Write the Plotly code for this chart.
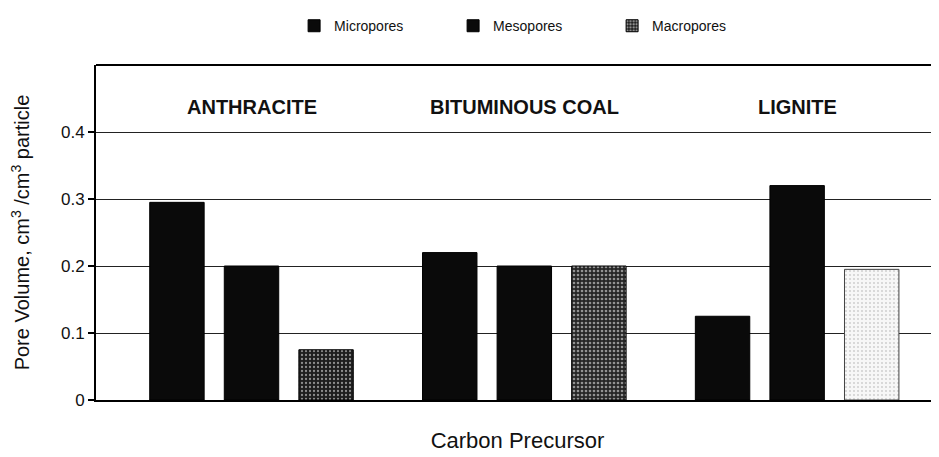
import plotly.graph_objects as go

precursors = ["ANTHRACITE", "BITUMINOUS COAL", "LIGNITE"]
micropores = [0.295, 0.22, 0.125]
mesopores = [0.2, 0.2, 0.32]
macropores = [0.075, 0.2, 0.195]
y_ticks = [0, 0.1, 0.2, 0.3, 0.4]
y_tick_labels = ["0", "0.1", "0.2", "0.3", "0.4"]

FONT = "Liberation Sans, Arial, sans-serif"

fig = go.Figure()
fig.add_trace(go.Bar(name="Micropores", x=precursors, y=micropores,
                     marker=dict(color="#0a0a0a", line=dict(color="#000", width=1))))
fig.add_trace(go.Bar(name="Mesopores", x=precursors, y=mesopores,
                     marker=dict(color="#0a0a0a", line=dict(color="#000", width=1))))
fig.add_trace(go.Bar(name="Macropores", x=precursors, y=macropores,
                     marker=dict(color="#222",
                                 line=dict(color=["#000", "#000", "#444"], width=1),
                                 pattern=dict(shape=".", fgcolor=["#ffffff", "#ffffff", "#555555"],
                                              bgcolor=["#1e1e1e", "#262626", "#f7f7f7"],
                                              size=4, solidity=[0.25, 0.35, 0.1],
                                              fillmode="overlay"))))

for p in precursors:
    fig.add_annotation(x=p, y=0.437, text="<b>" + p + "</b>", showarrow=False, xref="x", yref="y",
                       font=dict(family=FONT, size=20, color="#111"))

# the page body adds an 8 px offset, so the figure is sized to fit the window
fig.update_layout(
    width=931, height=449,
    paper_bgcolor="white", plot_bgcolor="white",
    margin=dict(l=88, r=0, t=57, b=57, autoexpand=False),
    barmode="group", bargap=0.18, bargroupgap=0.27,
    font=dict(family=FONT, color="#111"),
    showlegend=True,
    legend=dict(orientation="h", x=0.235, y=1.116, xanchor="left", yanchor="middle",
                font=dict(size=14, family=FONT), itemwidth=30, entrywidth=114,
                traceorder="normal"),
    xaxis=dict(range=[-0.57, 2.52], showticklabels=False, ticks="", showgrid=False,
               showline=True, linecolor="#000", linewidth=2, mirror=False, automargin=False,
               title=dict(text="Carbon Precursor", font=dict(size=22, family=FONT), standoff=32)),
    yaxis=dict(range=[0, 0.5], tickvals=y_ticks, ticktext=y_tick_labels,
               ticks="outside", ticklen=6, tickcolor="#000", tickwidth=1.5,
               showgrid=True, gridcolor="#222", gridwidth=1.2,
               showline=True, linecolor="#000", linewidth=2, automargin=False,
               tickfont=dict(size=17, family=FONT),
               title=dict(text="Pore Volume, cm<sup>3</sup> /cm<sup>3</sup> particle",
                          font=dict(size=20, family=FONT), standoff=32),
               zeroline=False),
)
fig.add_shape(type="line", xref="paper", yref="paper", x0=0, x1=1, y0=1, y1=1,
              line=dict(color="#000", width=2))

fig.write_html("out.html")
